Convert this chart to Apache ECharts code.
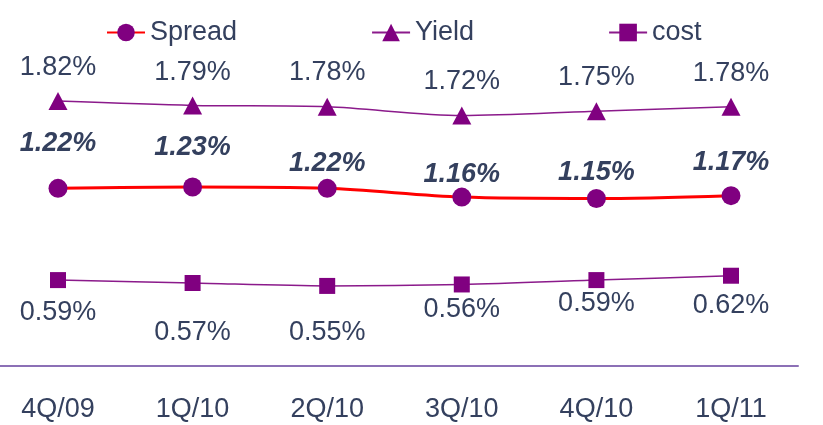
<!DOCTYPE html>
<html>
<head>
<meta charset="utf-8">
<script src="https://cdn.jsdelivr.net/npm/echarts@6/dist/echarts.min.js"></script>
<style>
html,body{margin:0;padding:0;background:#fff;}
#c{width:823px;height:425px;}
</style>
</head>
<body>
<div id="c"></div>
<script>
var categories = ['4Q/09', '1Q/10', '2Q/10', '3Q/10', '4Q/10', '1Q/11'];
var spread = [1.22, 1.23, 1.22, 1.16, 1.15, 1.17];
var yieldVals = [1.82, 1.79, 1.78, 1.72, 1.75, 1.78];
var cost = [0.59, 0.57, 0.55, 0.56, 0.59, 0.62];

// label vertical offsets (style only)
var spreadLabelDy = [-45, -39, -25, -23, -26, -33];
var yieldLabelDy = [-33, -33, -34, -34, -34, -33];
var costLabelDy = [32, 50, 47, 25, 23, 30];

var textColor = '#34405E';
var purple = '#800080';
var font = 'Liberation Sans, Arial, sans-serif';

function withLabels(vals, dys) {
  return vals.map(function (v, i) {
    return { value: v, label: { offset: [0, dys[i]] } };
  });
}
function pct(p) { return p.value.toFixed(2) + '%'; }

var chart = echarts.init(document.getElementById('c'));
chart.setOption({
  animation: false,
  backgroundColor: '#fff',
  textStyle: { fontFamily: font },
  legend: {
    top: 14,
    left: 101,
    itemGap: 134,
    itemWidth: 38,
    itemHeight: 22,
    textStyle: { fontSize: 27, color: textColor, fontFamily: font },
    data: ['Spread', 'Yield', 'cost']
  },
  grid: [
    { left: 58, right: 92, top: 2, bottom: 59 },
    { left: 0, right: 25, top: 2, bottom: 59 }
  ],
  xAxis: [
    {
      type: 'category', gridIndex: 0, data: categories, boundaryGap: false,
      axisLine: { show: false }, axisTick: { show: false },
      axisLabel: { fontSize: 27, color: textColor, margin: 30, fontFamily: font }
    },
    {
      type: 'category', gridIndex: 1, data: categories, boundaryGap: false,
      axisLine: { show: true, lineStyle: { color: '#8C70B6', width: 2 } },
      axisTick: { show: false }, axisLabel: { show: false }
    }
  ],
  yAxis: [
    { type: 'value', gridIndex: 0, min: 0, max: 2.5, show: false, splitLine: { show: false } },
    { type: 'value', gridIndex: 1, min: 0, max: 2.5, show: false, splitLine: { show: false } }
  ],
  series: [
    {
      name: 'Spread', type: 'line', xAxisIndex: 0, yAxisIndex: 0,
      data: withLabels(spread, spreadLabelDy),
      smooth: 0.3,
      symbol: 'circle', symbolSize: 19,
      itemStyle: { color: purple },
      lineStyle: { color: '#FF0000', width: 3 },
      label: {
        show: true, position: 'inside', formatter: pct,
        fontSize: 27, fontWeight: 'bold', fontStyle: 'italic', color: textColor, fontFamily: font
      },
      z: 3
    },
    {
      name: 'Yield', type: 'line', xAxisIndex: 0, yAxisIndex: 0,
      data: withLabels(yieldVals, yieldLabelDy),
      smooth: 0.3,
      symbol: 'triangle', symbolSize: [19, 18],
      itemStyle: { color: purple },
      lineStyle: { color: '#8B1A8B', width: 1.5 },
      label: {
        show: true, position: 'inside', formatter: pct,
        fontSize: 27, color: textColor, fontFamily: font
      }
    },
    {
      name: 'cost', type: 'line', xAxisIndex: 0, yAxisIndex: 0,
      data: withLabels(cost, costLabelDy),
      smooth: 0.3,
      symbol: 'rect', symbolSize: 16,
      itemStyle: { color: purple },
      lineStyle: { color: '#8B1A8B', width: 1.5 },
      label: {
        show: true, position: 'inside', formatter: pct,
        fontSize: 27, color: textColor, fontFamily: font
      }
    }
  ]
});
</script>
</body>
</html>
